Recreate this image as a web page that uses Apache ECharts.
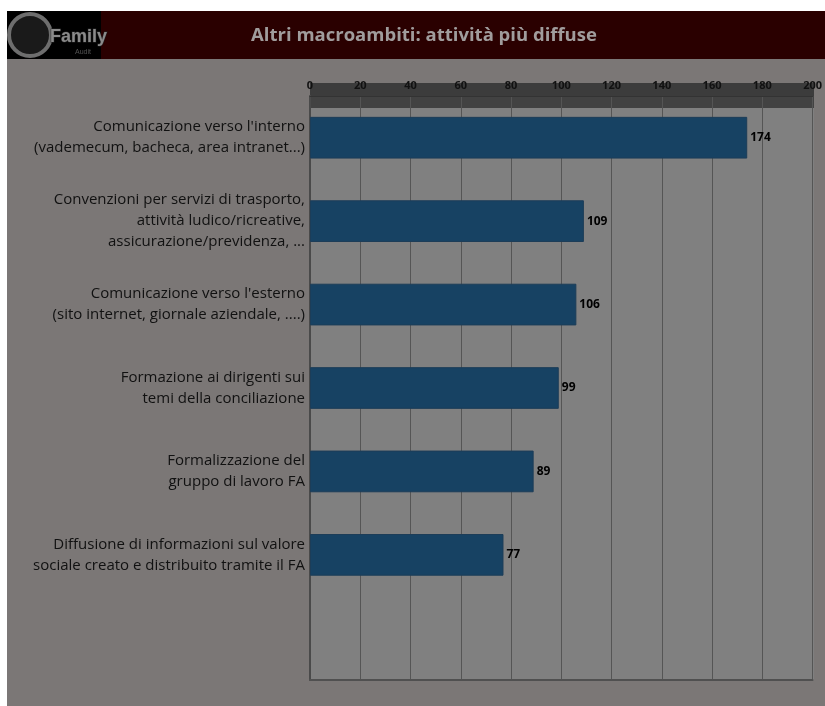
<!DOCTYPE html>
<html>
<head>
<meta charset="utf-8">
<script src="https://cdn.jsdelivr.net/npm/echarts@6/dist/echarts.min.js"></script>
<style>html,body{margin:0;padding:0;background:#fff}#c{width:825px;height:706px}</style>
</head>
<body>
<div id="c"></div>
<script>
var titleText = 'Altri macroambiti: attività più diffuse';
var categories = [
  "Comunicazione verso l'interno\n(vademecum, bacheca, area intranet...)",
  "Convenzioni per servizi di trasporto,\nattività ludico/ricreative,\nassicurazione/previdenza, ...",
  "Comunicazione verso l'esterno\n(sito internet, giornale aziendale, ....)",
  "Formazione ai dirigenti sui\ntemi della conciliazione",
  "Formalizzazione del\ngruppo di lavoro FA",
  "Diffusione di informazioni sul valore\nsociale creato e distribuito tramite il FA",
  ""
];
var values = [174, 109, 106, 99, 89, 77, null];
var axisMin = 0, axisMax = 200, axisStep = 20;

var chart = echarts.init(document.getElementById('c'));
var G = {left: 310, right: 814, top: 96, bottom: 680};
chart.setOption({
  backgroundColor: '#ffffff',
  animation: false,
  graphic: [
    {type: 'rect', z: -10, shape: {x: 7, y: 59, width: 818, height: 647}, style: {fill: '#7b7776'}},
    {type: 'rect', z: -10, shape: {x: 7, y: 11, width: 94, height: 48}, style: {fill: '#000000'}},
    {type: 'rect', z: -10, shape: {x: 101, y: 11, width: 724, height: 48}, style: {fill: '#2a0000'}},
    {type: 'rect', z: -9, shape: {x: G.left, y: G.top, width: G.right - G.left, height: G.bottom - G.top}, style: {fill: '#808080'}},
    {type: 'rect', z: -8, shape: {x: G.left, y: 83, width: G.right - G.left, height: 25}, style: {fill: '#424242'}},
    {type: 'rect', z: -8, shape: {x: G.left, y: 83, width: G.right - G.left, height: 13}, style: {fill: '#3c3c3c'}},
    {type: 'circle', z: -7, shape: {cx: 30, cy: 35, r: 21}, style: {fill: '#1a1a1a', stroke: '#6e6e6e', lineWidth: 4}},
    {type: 'text', z: -6, style: {text: 'Family', x: 50, y: 37, fill: '#8a8a8a', stroke: '#222', lineWidth: 1, font: 'bold 18px "Liberation Sans"', verticalAlign: 'middle'}},
    {type: 'text', z: -6, style: {text: 'Audit', x: 75, y: 52, fill: '#555', font: '7px "Liberation Sans"', verticalAlign: 'middle'}},
    {type: 'text', z: 5, style: {text: titleText, x: 424, y: 36, fill: '#a09c9c', font: 'bold 18.5px "Open Sans"', align: 'center', verticalAlign: 'middle'}}
  ],
  grid: {left: G.left, right: 825 - G.right, top: G.top, bottom: 706 - G.bottom, containLabel: false},
  xAxis: [{
    type: 'value', position: 'top', min: axisMin, max: axisMax, interval: axisStep,
    axisLine: {show: true, lineStyle: {color: '#333', width: 1}},
    axisTick: {show: false},
    axisLabel: {color: '#111', fontWeight: 'bold', fontSize: 11, fontFamily: 'Open Sans', margin: 5, showMaxLabel: true, showMinLabel: true},
    splitLine: {show: true, lineStyle: {color: '#555', width: 1}}
  }, {
    type: 'value', position: 'bottom', min: axisMin, max: axisMax, interval: axisStep,
    axisLine: {show: true, lineStyle: {color: '#505050', width: 2}},
    axisTick: {show: false}, axisLabel: {show: false}, splitLine: {show: false}
  }],
  yAxis: [{
    type: 'category', data: categories, inverse: true,
    axisLine: {show: true, lineStyle: {color: '#555'}},
    axisTick: {show: false},
    axisLabel: {color: '#111', fontSize: 15, fontFamily: 'Open Sans', lineHeight: 21, margin: 5, align: 'right'}
  }, {
    type: 'category', data: categories, inverse: true, position: 'right',
    axisLine: {show: true, lineStyle: {color: '#4a4a4a', width: 2}},
    axisTick: {show: false}, axisLabel: {show: false}
  }],
  series: [{
    type: 'bar', data: values, barWidth: '50%',
    itemStyle: {color: '#174263', borderColor: '#1d3d58', borderWidth: 1},
    label: {show: true, position: 'right', distance: 3, color: '#000', fontWeight: 'bold', fontSize: 12, fontFamily: 'Open Sans'}
  }]
});
</script>
</body>
</html>
